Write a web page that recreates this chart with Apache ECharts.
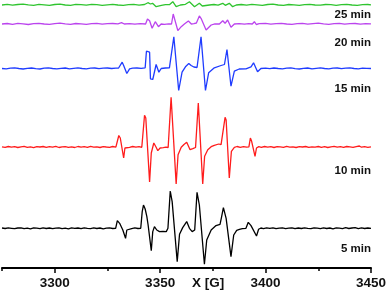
<!DOCTYPE html>
<html>
<head>
<meta charset="utf-8">
<script src="https://cdn.jsdelivr.net/npm/echarts@6/dist/echarts.min.js"></script>
<style>html,body{margin:0;padding:0;background:#fff}#c{width:389px;height:296px}</style>
</head>
<body>
<div id="c"></div>
<script>
// Field axis ticks (G)
const majorTicks = [3300, 3350, 3400, 3450];
const minorTicks = [3275, 3325, 3375, 3425];
const traceLabels = ['25 min', '20 min', '15 min', '10 min', '5 min'];

// Spectra: [field (G), signal (arb. units)]
const spec25 = [[3275,0],[3277.5,0.6],[3280,-0.2],[3282.5,0.5],[3285,0.9],[3287.5,0.1],[3290,-0.3],[3292.5,0.6],[3295,0.2],[3297.5,-0.4],[3300,0.5],[3302.5,0.8],[3305,0],[3307.5,-0.3],[3310,0.6],[3312.5,0.3],[3315,-0.2],[3317.5,0.7],[3320,0.4],[3322.5,-0.3],[3325,0.2],[3327.5,0.7],[3330,0],[3332.5,-0.4],[3335,0.3],[3337.5,0.6],[3340,-0.1],[3342.6,0.5],[3344.2,2.3],[3345.4,1],[3346.4,1.7],[3348.1,-1.7],[3350.6,-0.3],[3352.5,0.4],[3354.4,0.3],[3356.0,3.3],[3357.6,-1.7],[3359.6,0],[3362.0,0.7],[3363.9,3.3],[3366.3,-1.7],[3368.6,1.7],[3370.0,-1],[3373.4,0],[3375.5,0.5],[3377.5,-0.2],[3379.7,1.7],[3380.9,-0.3],[3382.8,1.7],[3384.4,-1.7],[3386.1,0],[3388.5,0.5],[3391,-0.2],[3393.5,0.6],[3396,0.1],[3398.5,-0.4],[3401,0.5],[3403.5,0.8],[3406,0],[3408.5,-0.3],[3411,0.5],[3413.5,0.2],[3416,-0.4],[3418.5,0.4],[3421,0.7],[3423.5,0],[3426,-0.2],[3428.5,0.5],[3431,0.3],[3433.5,-0.3],[3436,0.4],[3438.5,0.7],[3441,0],[3443.5,-0.3],[3446,0.3],[3448.5,0.5],[3450,0.2]];

const spec20 = [[3275,0],[3277.5,0.5],[3280,-0.3],[3282.5,0.6],[3285,0.2],[3287.5,-0.5],[3290,0.3],[3292.5,0.7],[3295,0],[3297.5,-0.4],[3300,0.4],[3302.5,0.8],[3305,0.1],[3307.5,-0.3],[3310,0.5],[3312.5,0.2],[3315,-0.4],[3317.5,0.3],[3320,0.6],[3322.5,-0.2],[3325,0.3],[3327.5,0.5],[3330,0.2],[3331.7,1.3],[3333,0],[3335.5,0.4],[3338,-0.2],[3340.5,0.3],[3343.1,0],[3344.0,5],[3345.0,3.3],[3346.2,-4.3],[3347.7,2.3],[3349.2,-2.7],[3350.5,0],[3352,-0.3],[3354,0.2],[3355.4,0],[3356.2,10],[3358.4,-6.7],[3360.0,-2.7],[3361.5,0],[3363.4,3],[3364.8,0],[3366,0.3],[3367.2,1],[3368.6,8],[3369.4,5.7],[3371.8,-6],[3374.2,-1],[3376,0.2],[3378.1,0],[3379.7,3.3],[3380.8,0.7],[3382.0,4],[3383.6,-3.3],[3385.2,0],[3387.5,0.4],[3390,-0.2],[3392,0.3],[3393.7,0],[3394.7,2.3],[3395.6,-0.5],[3397,0.3],[3400,0.6],[3402.5,-0.2],[3405,0.4],[3407.5,0.7],[3410,0],[3412.5,-0.4],[3415,0.3],[3417.5,0.6],[3420,-0.1],[3422.5,0.4],[3425,0.8],[3427.5,0.2],[3430,-0.3],[3432.5,0.4],[3435,0.6],[3437.5,-0.2],[3440,0.3],[3442.5,0.5],[3445,-0.1],[3447.5,0.4],[3450,0.2]];

const spec15 = [[3275,0],[3277,-0.4],[3279,0.3],[3281,0.6],[3283,0],[3285,-0.5],[3287,0.2],[3289,0.5],[3291,-0.2],[3293,-0.5],[3295,0.3],[3297,0.6],[3299,0],[3301,-0.4],[3303,0.2],[3305,0.5],[3307,-0.3],[3309,0.2],[3311,0.6],[3313,0],[3315,-0.4],[3317,0.3],[3319,0.5],[3321,-0.2],[3323,0.3],[3325,0.5],[3327,0],[3329,0.3],[3330.3,0.5],[3331.1,1.7],[3332.0,6.3],[3332.7,3],[3334.2,-5],[3335.5,-0.3],[3337,0.3],[3339,0.5],[3341,0.2],[3342.9,0.7],[3343.5,17.3],[3344.2,18.3],[3345.0,16.3],[3345.4,-10.3],[3346.5,-11],[3348.1,4],[3349.4,-3.7],[3350.5,0],[3352.5,0.5],[3354.4,0.7],[3356.5,31.7],[3358.8,-22],[3360.4,-3.7],[3362.0,1.7],[3363.6,5],[3364.7,3],[3366,1.5],[3367.5,1],[3369.4,31.7],[3371.5,-22],[3373.0,-4.3],[3375.7,0.7],[3378.9,3],[3380.5,4],[3381.7,19],[3383.6,-17.7],[3385.2,-2.7],[3387.5,-0.5],[3390.7,-0.3],[3393.1,1.7],[3394.3,5.7],[3396.2,-3.3],[3397.8,0],[3400,0.4],[3402,-0.2],[3404,0.5],[3406,0],[3408,-0.4],[3410,0.3],[3412,0.6],[3414,-0.1],[3416,-0.5],[3418,0.2],[3420,0.5],[3422,-0.3],[3424,0.2],[3426,0.6],[3428,0],[3430,-0.4],[3432,0.3],[3434,0.5],[3436,-0.2],[3438,0.4],[3440,0.7],[3442,0],[3444,-0.3],[3446,0.4],[3448,0.2],[3450,0]];

const spec10 = [[3275,0.2],[3276.5,-0.4],[3278,0.5],[3279.5,-0.2],[3281,0.3],[3282.5,-0.5],[3284,0.1],[3285.5,0.6],[3287,-0.3],[3288.5,0.2],[3290,-0.6],[3291.5,0.4],[3293,0],[3294.5,0.5],[3296,-0.4],[3297.5,0.3],[3299,-0.2],[3300.5,0.6],[3302,-0.5],[3303.5,0.2],[3305,0.4],[3306.5,-0.3],[3308,0.1],[3309.5,-0.5],[3311,0.5],[3312.5,-0.1],[3314,0.3],[3315.5,-0.4],[3317,0.6],[3318.5,-0.2],[3320,0.2],[3321.5,-0.5],[3323,0.4],[3324.5,0],[3326,-0.3],[3327.5,0.5],[3329,-0.2],[3329.8,0.5],[3330.4,11.5],[3331.1,9],[3332.7,-11],[3333.3,-1],[3334.2,0.4],[3335.5,-0.3],[3337,0.5],[3338.5,-0.2],[3340,0.4],[3341.3,-0.3],[3342.0,0.3],[3342.6,31.7],[3343.2,29],[3345.0,-35],[3345.8,-6],[3347.0,4],[3348.1,-0.3],[3348.9,-3.7],[3350.0,-1],[3351.5,-0.6],[3352.8,-0.1],[3353.8,-0.5],[3354.5,0.3],[3355.2,49.7],[3357.6,-37],[3358.5,-7.7],[3360.0,-0.3],[3361.3,2.5],[3362.6,4.7],[3364.2,-2.7],[3365.5,-1.7],[3366.8,-0.5],[3367.5,0.5],[3368.1,44],[3370.2,-37],[3371.1,-9.3],[3372.6,-2.7],[3374.2,0.3],[3375.7,1.7],[3377.8,3],[3378.9,2.3],[3379.8,2.0],[3380.8,29.7],[3381.3,27],[3382.8,-31],[3383.8,-4.3],[3385.2,-0.3],[3386.5,0.5],[3388,-0.4],[3389.5,0.3],[3391,-0.2],[3392.1,0.2],[3392.8,9],[3393.4,5.7],[3395.0,-9.3],[3395.7,-1],[3396.8,0.4],[3398,-0.3],[3399.5,0.5],[3401,-0.2],[3402.5,0.3],[3404,-0.5],[3405.5,0.4],[3407,0.1],[3408.5,-0.4],[3410,0.6],[3411.5,-0.2],[3413,0.2],[3414.5,-0.5],[3416,0.3],[3417.5,0],[3419,0.5],[3420.5,-0.4],[3422,0.2],[3423.5,-0.1],[3425,0.5],[3426.5,-0.3],[3428,0.4],[3429.5,-0.5],[3431,0.2],[3432.5,0.6],[3434,-0.2],[3435.5,0.3],[3437,-0.4],[3438.5,0.5],[3440,0.1],[3441.5,-0.3],[3443,0.4],[3444.5,1.0],[3445.5,-0.2],[3447,0.3],[3448.5,-0.3],[3450,0.2]];

const spec5 = [[3275,0.3],[3276.5,-0.2],[3278,0.4],[3279.5,0],[3281,-0.4],[3282.5,0.3],[3284,0.5],[3285.5,-0.3],[3287,0.2],[3288.5,-0.5],[3290,0.4],[3291.5,0.1],[3293,-0.3],[3294.5,0.5],[3296,-0.2],[3297.5,0.3],[3299,-0.4],[3300.5,0.2],[3302,0.5],[3303.5,-0.3],[3305,0.1],[3306.5,-0.5],[3308,0.4],[3309.5,-0.1],[3311,0.3],[3312.5,-0.4],[3314,0.5],[3315.5,0],[3317,-0.3],[3318.5,0.4],[3320,-0.2],[3321.5,0.3],[3323,-0.5],[3324.5,0.2],[3326,0.4],[3327.5,-0.2],[3328.9,0],[3329.7,7.7],[3330.8,5],[3332.3,-1.7],[3333.6,-10],[3334.2,-1.7],[3335,0.3],[3336.5,-0.3],[3338,0.4],[3339.5,-0.2],[3340.8,0],[3341.5,16.7],[3342.1,23.3],[3342.9,19.3],[3343.7,11.7],[3344.3,3.3],[3345.8,-22.3],[3346.5,-3.3],[3347.3,1.7],[3348.4,-1.7],[3349.7,-3.3],[3351.3,-3.0],[3352.9,-3.3],[3353.7,0],[3354.8,37.3],[3355.7,26.7],[3358.1,-33.3],[3359.2,-6],[3360.7,0.7],[3362.6,6.7],[3363.9,0],[3365.2,-3.3],[3366.4,-1.7],[3367.5,36],[3368.6,23.3],[3371.0,-36],[3372.1,-11.7],[3374.2,-1.7],[3376.5,2.7],[3378.4,4],[3379.0,10],[3380.0,20.7],[3381.3,10],[3383.6,-28.3],[3384.9,-6.7],[3386.3,-2],[3387.6,-1],[3389,-0.3],[3390.7,0],[3391.8,6],[3393.1,2.7],[3395.7,-7.7],[3396.7,-1],[3397.8,0.3],[3399,-0.3],[3400.5,0.4],[3402,-0.1],[3403.5,0.5],[3405,-0.4],[3406.5,0.2],[3408,0.4],[3409.5,-0.3],[3411,0.1],[3412.5,0.5],[3414,-0.4],[3415.5,0.3],[3417,-0.2],[3418.5,0.5],[3420,0],[3421.5,-0.4],[3423,0.4],[3424.5,0.1],[3426,-0.3],[3427.5,0.5],[3429,-0.2],[3430.5,0.3],[3432,-0.5],[3433.5,0.4],[3435,0.1],[3436.5,-0.3],[3438,0.6],[3439.5,-0.2],[3441,0.3],[3442.5,0.7],[3444,-0.3],[3445.5,0.4],[3447,-0.2],[3448.5,0.3],[3450,0]];

const spectra = [spec25, spec20, spec15, spec10, spec5];

// Layout / style (not data)
const colors = ['#2fc42f', '#bb44ee', '#1f3cff', '#ff1c1c', '#000000'];
const gridTop = 0, gridH = 268;
const baselinePx = [5, 24, 68.5, 147, 228.3];   // baseline of each trace, px from grid top
const labelY = [16, 44, 90, 172, 250];

const chart = echarts.init(document.getElementById('c'), null, {renderer: 'canvas'});

const yAxes = baselinePx.map(b => ({
  type: 'value', gridIndex: 0, show: false,
  min: -(gridH - b), max: b,
  axisLine: {show: false}, splitLine: {show: false}
}));

const option = {
  animation: false,
  backgroundColor: '#fff',
  grid: {left: 2, right: 17, top: gridTop, bottom: 296 - gridTop - gridH, containLabel: false},
  xAxis: [
    {
      type: 'value', min: 3275, max: 3450, position: 'bottom',
      axisLine: {show: true, onZero: false, lineStyle: {color: '#000', width: 2}},
      axisTick: {show: true, customValues: majorTicks, length: 5, lineStyle: {color: '#000', width: 1.5}},
      axisLabel: {show: true, customValues: majorTicks, margin: 8, formatter: v => String(v),
        fontFamily: 'Liberation Sans, Arial, sans-serif', fontWeight: 'bold', fontSize: 13.5, color: '#111'},
      splitLine: {show: false}
    },
    {
      type: 'value', min: 3275, max: 3450, position: 'bottom', offset: 0,
      axisLine: {show: false, onZero: false},
      axisTick: {show: true, customValues: minorTicks, length: 3, lineStyle: {color: '#000', width: 1.5}},
      axisLabel: {show: false},
      splitLine: {show: false}
    }
  ],
  yAxis: yAxes,
  series: spectra.map((d, i) => ({
    type: 'line', xAxisIndex: 0, yAxisIndex: i, data: d,
    showSymbol: false, symbol: 'none', smooth: false,
    lineStyle: {color: colors[i], width: 1.3},
    z: 2
  })),
  graphic: traceLabels.map((t, i) => ({
    type: 'text', right: 18, top: labelY[i] - 7,
    style: {text: t, fill: '#111', font: 'bold 11.5px "Liberation Sans", Arial, sans-serif', textAlign: 'right'}
  })).concat([{
    type: 'text', left: 192, top: 276,
    style: {text: 'X [G]', fill: '#111', font: 'bold 13.5px "Liberation Sans", Arial, sans-serif'}
  }])
};
chart.setOption(option);
</script>
</body>
</html>
